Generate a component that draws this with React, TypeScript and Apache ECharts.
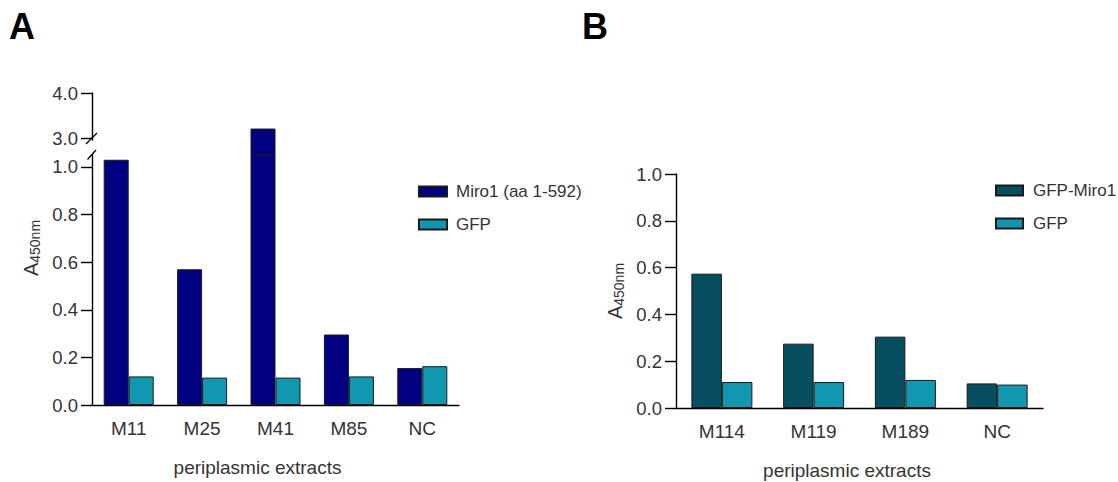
import React, { useEffect, useRef } from 'react';
import * as echarts from 'echarts';

// ---- data ----
const categoriesA = ['M11', 'M25', 'M41', 'M85', 'NC'];
const miro1Values = [1.03, 0.57, 3.21, 0.296, 0.155];
const gfpValuesA = [0.12, 0.115, 0.115, 0.12, 0.163];

const categoriesB = ['M114', 'M119', 'M189', 'NC'];
const gfpMiro1Values = [0.574, 0.275, 0.305, 0.105];
const gfpValuesB = [0.111, 0.111, 0.12, 0.1];

const lowerTicksA = [0, 0.2, 0.4, 0.6, 0.8, 1.0];
const upperTicksA = [3.0, 4.0];

const lowerMaxA = 1.05; // top of the lower segment
const upperMaxA = 4.0;

const FONT = "'Liberation Sans', Arial, Helvetica, sans-serif";
const TEXT = '#333';
const NAVY = '#000080';
const TEAL = '#1297b1';
const DARKTEAL = '#074f60';
const BORDER = '#1a1a1a';

const axisLineStyle = { color: '#000', width: 1.4 };

const barStyle = (color: string) => ({
  color,
  borderColor: BORDER,
  borderWidth: 1,
});

const yNameRich = {
  a: { fontSize: 20, fontFamily: FONT, color: TEXT, verticalAlign: 'top', lineHeight: 21 },
  b: { fontSize: 14, fontFamily: FONT, color: TEXT, verticalAlign: 'bottom', lineHeight: 14, padding: [11, 0, 0, 0] },
};

export default function App() {
  const ref = useRef<HTMLDivElement>(null);

  useEffect(() => {
    if (!ref.current) return;
    const chart = echarts.init(ref.current, undefined, { renderer: 'svg' });

    const upperOnly = (arr: number[]) => arr.map((v) => (v > lowerMaxA ? v : '-'));

    const option: any = {
      animation: false,
      backgroundColor: '#fff',
      textStyle: { fontFamily: FONT },
      grid: [
        // 0: panel A lower segment
        { left: 92, top: 155, width: 367, height: 253 },
        // 1: panel A upper segment (bars)
        { left: 92, top: 93, width: 367, height: 62 },
        // 2: panel A upper segment (axis)
        { left: 92, top: 93, width: 367, height: 47 },
        // 3: panel B
        { left: 676, top: 174, width: 367, height: 234 },
      ],
      xAxis: [
        {
          gridIndex: 0,
          type: 'category',
          data: categoriesA,
          axisLine: { lineStyle: axisLineStyle },
          axisTick: { alignWithLabel: true, length: 10, lineStyle: axisLineStyle },
          axisLabel: { margin: 14, fontSize: 19, color: TEXT, fontFamily: FONT },
          name: 'periplasmic extracts',
          nameLocation: 'middle',
          nameGap: 53,
          nameTextStyle: { fontSize: 19, color: TEXT, fontFamily: FONT, padding: [0, 36, 0, 0] },
        },
        { gridIndex: 1, type: 'category', data: categoriesA, show: false },
        { gridIndex: 2, type: 'category', data: categoriesA, show: false },
        {
          gridIndex: 3,
          type: 'category',
          data: categoriesB,
          axisLine: { lineStyle: axisLineStyle },
          axisTick: { alignWithLabel: true, length: 10, lineStyle: axisLineStyle },
          axisLabel: { margin: 14, fontSize: 19, color: TEXT, fontFamily: FONT },
          name: 'periplasmic extracts',
          nameLocation: 'middle',
          nameGap: 53,
          nameTextStyle: { fontSize: 19, color: TEXT, fontFamily: FONT, padding: [0, 25, 0, 0] },
        },
      ],
      yAxis: [
        {
          gridIndex: 0,
          type: 'value',
          min: 0,
          max: lowerMaxA,
          splitLine: { show: false },
          axisLine: { show: true, lineStyle: axisLineStyle },
          axisTick: { show: true, length: 11, customValues: lowerTicksA, lineStyle: axisLineStyle },
          axisLabel: {
            customValues: lowerTicksA,
            formatter: (v: number) => v.toFixed(1),
            margin: 14,
            fontSize: 18.5,
            color: TEXT,
            fontFamily: FONT,
          },
          name: '{a|A}{b|450nm}',
          nameLocation: 'middle',
          nameRotate: 90,
          nameGap: 50,
          nameTextStyle: { rich: yNameRich, padding: [0, 0, 0, 64] },
        },
        {
          gridIndex: 1,
          type: 'value',
          min: upperMaxA - 62 / 45,
          max: upperMaxA,
          show: false,
          splitLine: { show: false },
        },
        {
          gridIndex: 2,
          type: 'value',
          min: upperMaxA - 47 / 45,
          max: upperMaxA,
          splitLine: { show: false },
          axisLine: { show: true, lineStyle: axisLineStyle },
          axisTick: { show: true, length: 11, customValues: upperTicksA, lineStyle: axisLineStyle },
          axisLabel: {
            customValues: upperTicksA,
            formatter: (v: number) => v.toFixed(1),
            margin: 14,
            fontSize: 18.5,
            color: TEXT,
            fontFamily: FONT,
          },
        },
        {
          gridIndex: 3,
          type: 'value',
          min: 0,
          max: 1,
          interval: 0.2,
          splitLine: { show: false },
          axisLine: { show: true, lineStyle: axisLineStyle },
          axisTick: { show: true, length: 11, lineStyle: axisLineStyle },
          axisLabel: {
            formatter: (v: number) => v.toFixed(1),
            margin: 14,
            fontSize: 18.5,
            color: TEXT,
            fontFamily: FONT,
          },
          name: '{a|A}{b|450nm}',
          nameLocation: 'middle',
          nameRotate: 90,
          nameGap: 50,
          nameTextStyle: { rich: yNameRich },
        },
      ],
      legend: [
        {
          data: ['Miro1 (aa 1-592)', 'GFP'],
          orient: 'vertical',
          left: 413,
          top: 178,
          icon: 'rect',
          itemWidth: 28,
          itemHeight: 10,
          itemGap: 16,
          selectedMode: false,
          textStyle: { fontSize: 17, color: TEXT, fontFamily: FONT, padding: [0, 0, 0, 4] },
        },
        {
          data: ['GFP-Miro1', 'GFP'],
          orient: 'vertical',
          left: 990,
          top: 177,
          icon: 'rect',
          itemWidth: 27,
          itemHeight: 10,
          itemGap: 16,
          selectedMode: false,
          textStyle: { fontSize: 17, color: TEXT, fontFamily: FONT, padding: [0, 0, 0, 5] },
        },
      ],
      series: [
        {
          name: 'Miro1 (aa 1-592)',
          type: 'bar',
          xAxisIndex: 0,
          yAxisIndex: 0,
          data: miro1Values,
          barWidth: 25,
          barGap: '0%',
          clip: true,
          itemStyle: barStyle(NAVY),
        },
        {
          name: 'GFP',
          type: 'bar',
          xAxisIndex: 0,
          yAxisIndex: 0,
          data: gfpValuesA,
          barWidth: 25,
          barGap: '0%',
          clip: true,
          itemStyle: barStyle(TEAL),
        },
        {
          name: 'Miro1 (aa 1-592)',
          type: 'bar',
          xAxisIndex: 1,
          yAxisIndex: 1,
          data: upperOnly(miro1Values),
          barWidth: 25,
          barGap: '0%',
          clip: true,
          itemStyle: barStyle(NAVY),
        },
        {
          name: 'GFP',
          type: 'bar',
          xAxisIndex: 1,
          yAxisIndex: 1,
          data: upperOnly(gfpValuesA),
          barWidth: 25,
          barGap: '0%',
          clip: true,
          itemStyle: barStyle(TEAL),
        },
        {
          name: 'GFP-Miro1',
          type: 'bar',
          xAxisIndex: 3,
          yAxisIndex: 3,
          data: gfpMiro1Values,
          barWidth: 30.5,
          barGap: '0%',
          itemStyle: barStyle(DARKTEAL),
        },
        {
          name: 'GFP',
          type: 'bar',
          xAxisIndex: 3,
          yAxisIndex: 3,
          data: gfpValuesB,
          barWidth: 30.5,
          barGap: '0%',
          itemStyle: barStyle(TEAL),
        },
      ],
      graphic: [
        {
          type: 'text',
          left: 9,
          top: 8,
          style: { text: 'A', font: `bold 36px ${FONT}`, fill: '#000' },
        },
        {
          type: 'text',
          left: 582,
          top: 8,
          style: { text: 'B', font: `bold 36px ${FONT}`, fill: '#000' },
        },
        // axis break marks
        {
          type: 'line',
          shape: { x1: 86, y1: 144, x2: 97, y2: 133 },
          style: { stroke: '#000', lineWidth: 1.3 },
        },
        {
          type: 'line',
          shape: { x1: 87.5, y1: 159.5, x2: 96, y2: 150 },
          style: { stroke: '#000', lineWidth: 1.3 },
        },
      ],
    };

    chart.setOption(option);
    return () => chart.dispose();
  }, []);

  return (
    <div
      ref={ref}
      style={{ position: 'absolute', left: 0, top: 0, width: 1118, height: 482, background: '#fff' }}
    />
  );
}
